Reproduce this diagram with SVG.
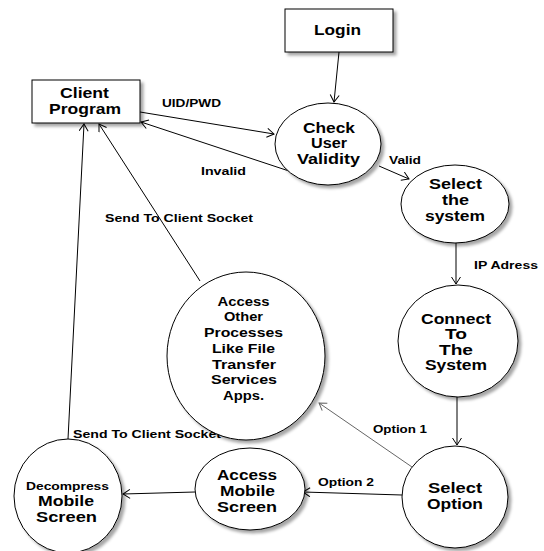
<svg xmlns="http://www.w3.org/2000/svg" width="544" height="551" viewBox="0 0 544 551">
<style>
.shape{fill:#fff;stroke:#000;stroke-width:1;filter:url(#sh)}
.nt{font-family:"Liberation Sans",Arial,sans-serif;font-weight:bold;font-size:14px;fill:#000;text-anchor:middle}
.lb{font-family:"Liberation Sans",Arial,sans-serif;font-weight:bold;font-size:11.5px;fill:#000}
.c{fill:none;stroke:#000;stroke-width:1;marker-end:url(#ah)}
.cg{fill:none;stroke:#666;stroke-width:1;marker-end:url(#ahg)}
</style>
<defs>
<filter id="sh" x="-20%" y="-20%" width="150%" height="150%">
<feDropShadow dx="3" dy="3" stdDeviation="1.8" flood-color="#000" flood-opacity="0.35"/>
</filter>
<marker id="ah" markerUnits="userSpaceOnUse" markerWidth="12" markerHeight="12" refX="8" refY="5" orient="auto">
<path d="M1,0.5 L8,5 L1,9.5" fill="none" stroke="#000" stroke-width="1"/>
</marker>
<marker id="ahg" markerUnits="userSpaceOnUse" markerWidth="12" markerHeight="12" refX="8" refY="5" orient="auto">
<path d="M1,0.5 L8,5 L1,9.5" fill="none" stroke="#666" stroke-width="1"/>
</marker>
</defs>
<rect width="544" height="551" fill="#fff"/>
<g id="connectors">
<line class="c" x1="339" y1="52" x2="334" y2="102"/>
<line class="c" x1="140" y1="112" x2="274" y2="134"/>
<line class="c" x1="292" y1="172" x2="141" y2="122"/>
<line class="c" x1="379" y1="166" x2="409" y2="179"/>
<line class="c" x1="456" y1="243" x2="456" y2="284"/>
<line class="c" x1="457" y1="397" x2="457" y2="445"/>
<line class="cg" x1="412" y1="467" x2="319" y2="403"/>
<line class="c" x1="402" y1="495" x2="303" y2="492"/>
<line class="c" x1="195" y1="492" x2="123" y2="494"/>
<line class="c" x1="68" y1="439" x2="84" y2="124"/>
<line class="c" x1="200" y1="281" x2="99" y2="124"/>
<text class="lb" x="162" y="107" textLength="59" lengthAdjust="spacingAndGlyphs">UID/PWD</text>
<text class="lb" x="201" y="175" textLength="45" lengthAdjust="spacingAndGlyphs">Invalid</text>
<text class="lb" x="105" y="222" textLength="148" lengthAdjust="spacingAndGlyphs">Send To Client Socket</text>
<text class="lb" x="389" y="164" textLength="32" lengthAdjust="spacingAndGlyphs" style="font-size:11px">Valid</text>
<text class="lb" x="474" y="269" textLength="64" lengthAdjust="spacingAndGlyphs">IP Adress</text>
<text class="lb" x="373" y="433" textLength="54" lengthAdjust="spacingAndGlyphs">Option 1</text>
<text class="lb" x="318" y="486" textLength="56" lengthAdjust="spacingAndGlyphs">Option 2</text>
<text class="lb" x="73" y="438" textLength="148" lengthAdjust="spacingAndGlyphs">Send To Client Socket</text>
</g>
<g id="client">
<rect class="shape" x="32" y="80" width="108" height="43"/>
<text class="nt" x="84.5" y="98" textLength="49" lengthAdjust="spacingAndGlyphs">Client</text>
<text class="nt" x="85" y="114" textLength="72" lengthAdjust="spacingAndGlyphs">Program</text>
</g>
<g id="login">
<rect class="shape" x="285" y="9" width="108" height="43"/>
<text class="nt" x="337.5" y="35" textLength="47" lengthAdjust="spacingAndGlyphs">Login</text>
</g>
<g id="check">
<ellipse class="shape" cx="328" cy="144" rx="53" ry="41"/>
<text class="nt" x="329" y="133" textLength="52" lengthAdjust="spacingAndGlyphs">Check</text>
<text class="nt" x="329" y="148" textLength="36" lengthAdjust="spacingAndGlyphs">User</text>
<text class="nt" x="328.5" y="164" textLength="63" lengthAdjust="spacingAndGlyphs">Validity</text>
</g>
<g id="selectsystem">
<ellipse class="shape" cx="455" cy="204" rx="54" ry="39"/>
<text class="nt" x="455.5" y="189" textLength="53" lengthAdjust="spacingAndGlyphs">Select</text>
<text class="nt" x="455.5" y="205" textLength="27" lengthAdjust="spacingAndGlyphs">the</text>
<text class="nt" x="455" y="221" textLength="60" lengthAdjust="spacingAndGlyphs">system</text>
</g>
<g id="connect">
<ellipse class="shape" cx="458" cy="341" rx="60" ry="56"/>
<text class="nt" x="456" y="324" textLength="70" lengthAdjust="spacingAndGlyphs">Connect</text>
<text class="nt" x="456" y="339" textLength="22" lengthAdjust="spacingAndGlyphs">To</text>
<text class="nt" x="456" y="355" textLength="34" lengthAdjust="spacingAndGlyphs">The</text>
<text class="nt" x="456" y="370" textLength="62" lengthAdjust="spacingAndGlyphs">System</text>
</g>
<g id="selectoption">
<ellipse class="shape" cx="455" cy="497" rx="53" ry="51"/>
<text class="nt" x="455" y="493" textLength="54" lengthAdjust="spacingAndGlyphs">Select</text>
<text class="nt" x="455" y="509" textLength="56" lengthAdjust="spacingAndGlyphs">Option</text>
</g>
<g id="accessother">
<ellipse class="shape" cx="246" cy="356" rx="79" ry="84"/>
<text class="nt" x="243.5" y="306" textLength="52" lengthAdjust="spacingAndGlyphs" style="font-size:13.5px">Access</text>
<text class="nt" x="243.5" y="321" textLength="39" lengthAdjust="spacingAndGlyphs" style="font-size:13.5px">Other</text>
<text class="nt" x="243.5" y="337" textLength="79" lengthAdjust="spacingAndGlyphs" style="font-size:13.5px">Processes</text>
<text class="nt" x="243.5" y="353" textLength="63" lengthAdjust="spacingAndGlyphs" style="font-size:13.5px">Like File</text>
<text class="nt" x="244" y="369" textLength="64" lengthAdjust="spacingAndGlyphs" style="font-size:13.5px">Transfer</text>
<text class="nt" x="244" y="384" textLength="66" lengthAdjust="spacingAndGlyphs" style="font-size:13.5px">Services</text>
<text class="nt" x="243.5" y="400" textLength="41" lengthAdjust="spacingAndGlyphs" style="font-size:13.5px">Apps.</text>
</g>
<g id="accessmobile">
<ellipse class="shape" cx="250" cy="489" rx="55" ry="41"/>
<text class="nt" x="247" y="480" textLength="60" lengthAdjust="spacingAndGlyphs">Access</text>
<text class="nt" x="247.5" y="496" textLength="55" lengthAdjust="spacingAndGlyphs">Mobile</text>
<text class="nt" x="247" y="512" textLength="60" lengthAdjust="spacingAndGlyphs">Screen</text>
</g>
<g id="decompress">
<ellipse class="shape" cx="68" cy="496" rx="54" ry="57"/>
<text class="nt" x="67.5" y="490" textLength="83" lengthAdjust="spacingAndGlyphs" style="font-size:11px">Decompress</text>
<text class="nt" x="66" y="506" textLength="56" lengthAdjust="spacingAndGlyphs">Mobile</text>
<text class="nt" x="66.5" y="522" textLength="61" lengthAdjust="spacingAndGlyphs">Screen</text>
</g>
</svg>
